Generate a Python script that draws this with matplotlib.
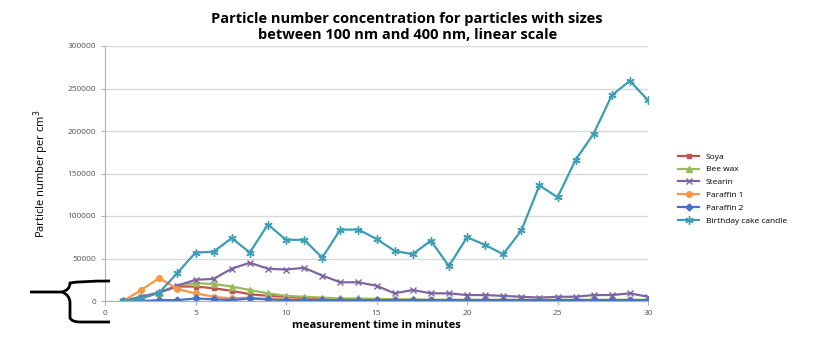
import matplotlib.pyplot as plt
from matplotlib.path import Path
from matplotlib.patches import PathPatch

t = list(range(1, 31))
soya = [0, 3000, 10000, 17000, 17000, 15000, 12000, 8000, 6000, 5000,
        3000, 2500, 2000, 1500, 1500, 1200, 1000, 1000, 1000, 1000,
        1000, 1000, 1000, 1000, 1000, 1000, 1000, 1000, 1000, 1000]
bee_wax = [0, 5000, 10000, 18000, 21000, 20000, 17000, 13000, 9000, 6000,
           5000, 4000, 3000, 3000, 2500, 2000, 2000, 1500, 1500, 1500,
           1500, 1500, 1500, 1500, 1500, 1500, 1500, 1500, 1500, 1500]
stearin = [0, 5000, 10000, 18000, 25000, 26000, 38000, 45000, 38000, 37000,
           39000, 30000, 22000, 22000, 18000, 9000, 13000, 9000, 9000, 7000,
           7000, 6000, 5000, 4000, 5000, 5000, 7000, 7000, 9000, 5000]
paraffin1 = [0, 13000, 27000, 14000, 9000, 5000, 3000, 4000, 2000, 2000,
             1500, 1000, 1000, 1000, 1000, 1000, 1000, 1000, 1000, 1000,
             1000, 1000, 1000, 1000, 1000, 1000, 1000, 1000, 1000, 1000]
paraffin2 = [0, 0, 1000, 1000, 3000, 2000, 1000, 3000, 2000, 1000,
             1000, 1000, 1000, 1000, 1000, 1000, 1000, 1000, 1000, 1000,
             1000, 1000, 1000, 1000, 1000, 1000, 1000, 1000, 1000, 1000]
birthday = [0, 3000, 10000, 33000, 57000, 58000, 74000, 57000, 90000, 72000,
            72000, 51000, 84000, 84000, 73000, 59000, 55000, 71000, 41000, 75000,
            66000, 55000, 83000, 136000, 122000, 166000, 197000, 242000, 259000, 236000]

series = [
    ("Soya", soya, "#C0504D", "s", 3.5),
    ("Bee wax", bee_wax, "#9BBB59", "^", 4),
    ("Stearin", stearin, "#8064A2", "x", 5),
    ("Paraffin 1", paraffin1, "#F79646", "o", 4),
    ("Paraffin 2", paraffin2, "#4472C4", "D", 3.5),
    ("Birthday cake candle", birthday, "#3C9DB4", (6, 2, 0), 6),
]

plt.rcParams['font.family'] = ['Open Sans', 'DejaVu Sans']
fig = plt.figure(figsize=(8.31, 3.37), dpi=100)
ax = fig.add_axes([105 / 831, 1 - 301 / 337, (648 - 105) / 831, (301 - 46) / 337])

for name, vals, col, mk, ms in series:
    ax.plot(t, vals, color=col, marker=mk, markersize=ms, linewidth=1.6,
            markeredgewidth=1.0, label=name)

ax.set_xlim(0, 30)
ax.set_ylim(0, 300000)
ax.set_xticks(range(0, 31, 5))
ax.set_yticks(range(0, 300001, 50000))
ax.yaxis.grid(True, color="#d9d9d9", linewidth=1)
ax.set_axisbelow(True)
for s in ["top", "right"]:
    ax.spines[s].set_visible(False)
for s in ["left", "bottom"]:
    ax.spines[s].set_color("#b0b0b0")
ax.tick_params(labelsize=6, colors="#b0b0b0", labelcolor="#555555", length=3)

ax.set_xlabel("measurement time in minutes", fontsize=8, fontweight="bold", labelpad=2)
ax.set_ylabel("Particle number per cm$^3$", fontsize=8, labelpad=12)
fig.text(0.49, 0.92, "Particle number concentration for particles with sizes\nbetween 100 nm and 400 nm, linear scale",
         ha="center", va="center", fontsize=10.5, fontweight="bold", linespacing=1.1)

ax.legend(loc="center left", bbox_to_anchor=(1.05, 0.44), frameon=False,
          fontsize=6, handlelength=2.5, labelspacing=0.6, borderaxespad=0)

# black brace annotation on the left
W, H = 831, 337
pts = [(30, 292), (62, 292),
       (62, 292), (70, 290), (70, 283), (80, 281), (110, 281)]
codes = [Path.MOVETO, Path.LINETO, Path.MOVETO, Path.CURVE3, Path.CURVE3, Path.CURVE3, Path.CURVE3]
pts2 = [(62, 292), (70, 295), (70, 303), (70, 318), (70, 318), (72, 322), (80, 322), (110, 322)]
codes2 = [Path.MOVETO, Path.CURVE3, Path.CURVE3, Path.LINETO, Path.LINETO, Path.CURVE3, Path.CURVE3, Path.LINETO]
for p, c in [(pts, codes), (pts2, codes2)]:
    verts = [(x / W, 1 - y / H) for x, y in p]
    fig.add_artist(PathPatch(Path(verts, c), transform=fig.transFigure,
                             fill=False, edgecolor="black", linewidth=2))

fig.savefig("out.png", dpi=100)
